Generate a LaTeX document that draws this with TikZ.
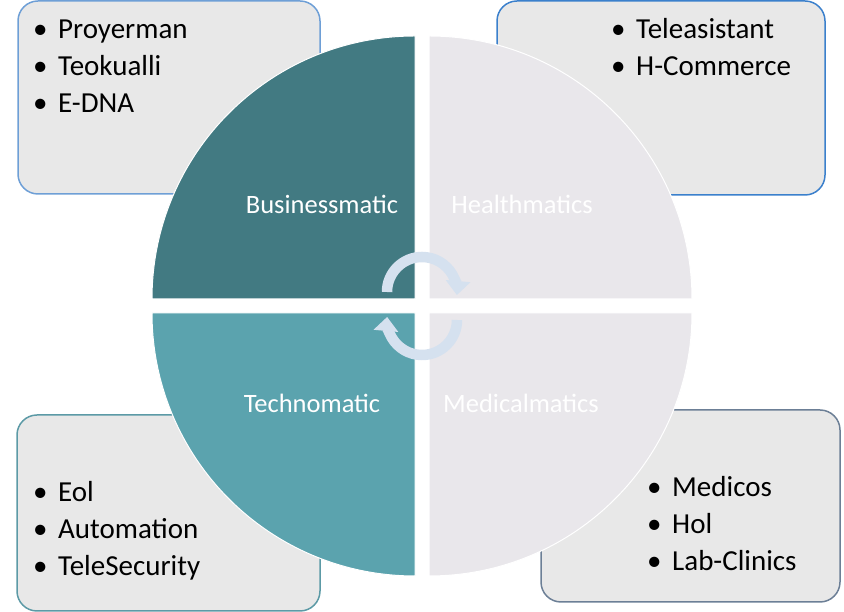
\documentclass[tikz,border=0pt]{standalone}
\usepackage{fontspec}
\setmainfont{Carlito}
\usetikzlibrary{arrows.meta}
\definecolor{boxfill}{HTML}{E8E8E8}
\definecolor{busicol}{HTML}{427A82}
\definecolor{techcol}{HTML}{5BA3AE}
\definecolor{medcol}{HTML}{E9E7EB}
\definecolor{turnblue}{HTML}{D5E1EF}
\newcommand\blt{\makebox[25pt][l]{\textbullet}}
\begin{document}
\begin{tikzpicture}
[x=1pt,y=1pt,
 panel/.style={draw,rounded corners=20pt,line width=1.5pt,fill=boxfill,inner sep=0pt},
 quarter/.style={draw=white,line width=1pt},
 item/.style={anchor=base west,inner sep=0pt,font=\fontsize{29}{37}\selectfont},
 sector/.style={anchor=base,text=white,inner sep=0pt,font=\fontsize{26.5}{30}\selectfont},
 turn/.style={line width=10.5pt,draw=turnblue,-{Triangle[width=24pt,length=14pt]}}]
\useasboundingbox (0,0) rectangle (844,612);
% boxes
\node[panel,draw={rgb,255:red,110;green,159;blue,214},minimum width=302pt,minimum height=193pt] (tlbox) at (169,514.5) {};
\node[panel,draw={rgb,255:red,59;green,128;blue,204},minimum width=328pt,minimum height=194pt] (trbox) at (661,514) {};
\node[panel,draw={rgb,255:red,92;green,154;blue,166},minimum width=303pt,minimum height=196pt] (blbox) at (168.5,99) {};
\node[panel,draw={rgb,255:red,108;green,127;blue,150},minimum width=299pt,minimum height=192pt] (brbox) at (690.5,106) {};
% quarters
\fill[quarter,fill=busicol] (415,313) -- (152,313) arc[start angle=180,end angle=90,radius=263] -- cycle;
\fill[quarter,fill=medcol] (429,313) -- (429,576) arc[start angle=90,end angle=0,radius=263] -- cycle;
\fill[quarter,fill=techcol] (415,299) -- (415,36) arc[start angle=270,end angle=180,radius=263] -- cycle;
\fill[quarter,fill=medcol] (429,299) -- (692,299) arc[start angle=0,end angle=-90,radius=263] -- cycle;
\node[sector] (busi) at (322,398) {Businessmatic};
\node[sector] (health) at (522,398) {Healthmatics};
\node[sector] (techno) at (312,199) {Technomatic};
\node[sector] (medical) at (521,199) {Medicalmatics};
% turning arrows
\draw[turn] (387,320) arc[start angle=180,end angle=-5,radius=35];
\draw[turn] (457,292) arc[start angle=0,end angle=-185,radius=35];
% lists
\foreach \t [count=\i] in {Proyerman,Teokualli,E-DNA}
  \node[item] (tl\i) at (33,{573-37*(\i-1)}) {\blt\t};
\foreach \t [count=\i] in {Teleasistant,H-Commerce}
  \node[item] (tr\i) at (611,{573-37*(\i-1)}) {\blt\t};
\foreach \t [count=\i] in {Eol,Automation,TeleSecurity}
  \node[item] (bl\i) at (33,{110-37*(\i-1)}) {\blt\t};
\foreach \t [count=\i] in {Medicos,Hol,Lab-Clinics}
  \node[item] (br\i) at (647,{115-37*(\i-1)}) {\blt\t};
\end{tikzpicture}
\end{document}
